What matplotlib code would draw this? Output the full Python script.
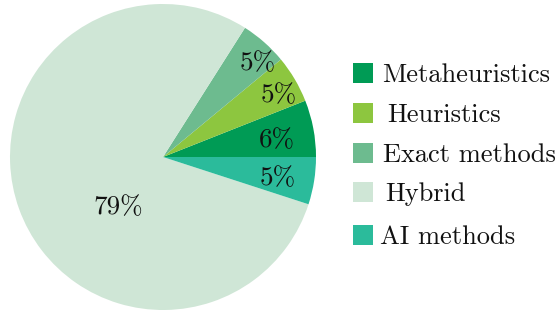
import numpy as np
import matplotlib.pyplot as plt
from matplotlib.patches import Rectangle

plt.rcParams['font.family'] = ['cmr10', 'DejaVu Serif']
plt.rcParams['mathtext.fontset'] = 'cm'
plt.rcParams['axes.unicode_minus'] = False

labels = ['Metaheuristics', 'Heuristics', 'Exact methods', 'Hybrid', 'AI methods']
shares = [6, 5, 5, 79, 5]
colors = ['#009b55', '#8dc63f', '#6dbb8f', '#cfe6d6', '#2bbb9b']

# where the percentage labels sit (radius fraction, angle in degrees)
pct_pos = [(0.75, 8.5), (0.86, 28), (0.87, 44.7), (0.44, 228), (0.76, -10.4)]
# legend rows (square centre y, text x) in pixels from top-left
leg_rows = [(73, 382), (113, 387), (153, 383), (192, 385), (235, 380)]

W, H = 558, 311
fig = plt.figure(figsize=(W / 100, H / 100), dpi=100)
ax = fig.add_axes([10 / W, 1 / H, 306 / W, 306 / H])

wedges, _ = ax.pie(shares, colors=colors, startangle=0, counterclock=True,
                   wedgeprops=dict(linewidth=0))
for s, (r, a) in zip(shares, pct_pos):
    t = np.deg2rad(a)
    ax.text(r * np.cos(t), r * np.sin(t), f'{s}%', ha='center', va='center',
            fontsize=19.5, color='#111111')
ax.set_xlim(-1, 1)
ax.set_ylim(-1, 1)
ax.set_aspect('equal')

for lab, col, (yc, tx) in zip(labels, colors, leg_rows):
    fig.patches.append(Rectangle((353 / W, (H - yc - 10) / H), 20 / W, 20 / H,
                                 transform=fig.transFigure, facecolor=col,
                                 edgecolor='none'))
    fig.text(tx / W, (H - yc) / H, lab, ha='left', va='center_baseline',
             fontsize=19, color='#111111')

fig.savefig('out.png', dpi=100)
